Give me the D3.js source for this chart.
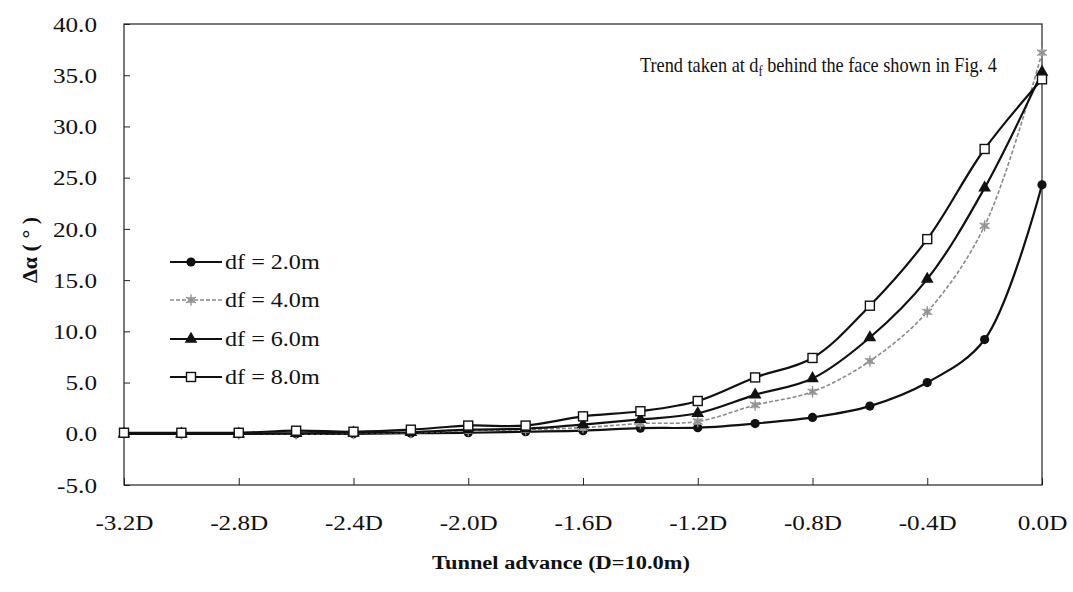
<!DOCTYPE html>
<html>
<head>
<meta charset="utf-8">
<script src="https://cdn.jsdelivr.net/npm/d3@7"></script>
<style>
  html, body { margin: 0; padding: 0; background: #fff; }
  svg { display: block; font-family: "Liberation Serif", "Times New Roman", serif; }
</style>
</head>
<body>
<svg id="chart" width="1073" height="592"></svg>
<script>
// Tunnel advance positions in units of D (D = 10.0 m)
const advance = [-3.2, -3.0, -2.8, -2.6, -2.4, -2.2, -2.0, -1.8, -1.6, -1.4, -1.2, -1.0, -0.8, -0.6, -0.4, -0.2, 0.0];

// Change of angle Δα (degrees) for each distance df behind the face
const df2 = [0.0, 0.0, 0.0, 0.0, 0.0, 0.05, 0.1, 0.2, 0.3, 0.55, 0.6, 1.0, 1.6, 2.7, 5.0, 9.2, 24.3];
const df4 = [0.0, 0.0, 0.0, 0.0, 0.05, 0.1, 0.3, 0.4, 0.6, 1.0, 1.2, 2.8, 4.1, 7.1, 11.9, 20.3, 37.2];
const df6 = [0.0, 0.0, 0.0, 0.05, 0.1, 0.15, 0.4, 0.5, 0.9, 1.4, 2.0, 3.8, 5.4, 9.4, 15.1, 24.0, 35.3];
const df8 = [0.1, 0.1, 0.1, 0.3, 0.2, 0.4, 0.8, 0.8, 1.7, 2.2, 3.2, 5.5, 7.4, 12.5, 19.0, 27.8, 34.6];

const seriesNames = ["df = 2.0m", "df = 4.0m", "df = 6.0m", "df = 8.0m"];

// Axis ticks and their labels
const xTicks = [-3.2, -2.8, -2.4, -2.0, -1.6, -1.2, -0.8, -0.4, 0.0];
const xTickLabels = ["-3.2D", "-2.8D", "-2.4D", "-2.0D", "-1.6D", "-1.2D", "-0.8D", "-0.4D", "0.0D"];
const yTicks = [-5, 0, 5, 10, 15, 20, 25, 30, 35, 40];
const yTickLabels = ["-5.0", "0.0", "5.0", "10.0", "15.0", "20.0", "25.0", "30.0", "35.0", "40.0"];

const FONT = '"Liberation Serif", "Times New Roman", serif';

const svg = d3.select("#chart");
const W = 1073, H = 592;
const margin = { left: 124, right: 31, top: 24, bottom: 107 };
const iw = W - margin.left - margin.right;
const ih = H - margin.top - margin.bottom;

const x = d3.scaleLinear().domain([-3.2, 0]).range([0, iw]);
const y = d3.scaleLinear().domain([-5, 40]).range([ih, 0]);

const g = svg.append("g").attr("transform", `translate(${margin.left},${margin.top})`);

// plot frame
g.append("rect")
  .attr("x", 0).attr("y", 0).attr("width", iw).attr("height", ih)
  .attr("fill", "none").attr("stroke", "#222").attr("stroke-width", 1.2);

// y axis: inward ticks, labels on the left
const yAxis = d3.axisLeft(y)
  .tickValues(yTicks)
  .tickFormat((d, i) => yTickLabels[i])
  .tickSizeInner(-6).tickSizeOuter(0).tickPadding(0);
const gy = g.append("g").call(yAxis).attr("font-family", FONT);
gy.select(".domain").remove();
gy.selectAll(".tick line").attr("stroke", "#222").attr("stroke-width", 1);
gy.selectAll(".tick text")
  .attr("font-size", 21).attr("fill", "#111")
  .attr("x", -27 / 1.2).attr("dy", "0.34em")
  .attr("text-anchor", "end")
  .attr("transform", "scale(1.2,1)");

// x axis: inward ticks, labels below
const xAxis = d3.axisBottom(x)
  .tickValues(xTicks)
  .tickFormat((d, i) => xTickLabels[i])
  .tickSizeInner(-7).tickSizeOuter(0).tickPadding(0);
const gx = g.append("g").attr("transform", `translate(0,${ih})`).call(xAxis).attr("font-family", FONT);
gx.select(".domain").remove();
gx.selectAll(".tick line").attr("stroke", "#222").attr("stroke-width", 1);
gx.selectAll(".tick text")
  .attr("font-size", 21).attr("fill", "#111")
  .attr("y", 45).attr("dy", 0)
  .attr("transform", "scale(1.2,1)");

// axis titles
svg.append("text")
  .attr("x", 0).attr("y", 0)
  .attr("transform", `translate(${margin.left + iw / 2 - 22},569) scale(1.18,1)`)
  .attr("text-anchor", "middle")
  .attr("font-size", 19).attr("font-weight", "bold").attr("fill", "#111")
  .text("Tunnel advance (D=10.0m)");

svg.append("text")
  .attr("transform", "translate(37,250) rotate(-90)")
  .attr("text-anchor", "middle")
  .attr("font-size", 22).attr("font-weight", "bold").attr("fill", "#111")
  .text("Δα ( ° )");

// annotation
const note = g.append("text")
  .attr("transform", "translate(516,48) scale(0.87,1)")
  .attr("font-size", 21).attr("fill", "#111");
note.append("tspan").text("Trend taken at d");
note.append("tspan").attr("font-size", 14).attr("dy", 4).text("f");
note.append("tspan").attr("dy", -4).text(" behind the face shown in Fig. 4");

// series definitions
const series = [
  { name: seriesNames[0], values: df2, stroke: "#111", width: 2.2, dash: null, marker: "circle" },
  { name: seriesNames[1], values: df4, stroke: "#8a8a8a", width: 1.6, dash: "4,2", marker: "star" },
  { name: seriesNames[2], values: df6, stroke: "#111", width: 2.2, dash: null, marker: "triangle" },
  { name: seriesNames[3], values: df8, stroke: "#111", width: 2.2, dash: null, marker: "square" }
];

const line = d3.line()
  .x(d => x(d[0]))
  .y(d => y(d[1]))
  .curve(d3.curveCatmullRom.alpha(0.5));

function drawMarker(sel, type) {
  if (type === "circle") {
    sel.append("circle").attr("r", 4.6).attr("fill", "#111");
  } else if (type === "triangle") {
    sel.append("path").attr("d", d3.symbol(d3.symbolTriangle, 70)()).attr("fill", "#111");
  } else if (type === "square") {
    sel.append("rect").attr("x", -4.5).attr("y", -4.5).attr("width", 9).attr("height", 9)
      .attr("fill", "#fff").attr("stroke", "#111").attr("stroke-width", 1.4);
  } else if (type === "star") {
    sel.append("path").attr("d", d3.symbol(d3.symbolSquare, 40)()).attr("fill", "#b5b5b5");
    sel.append("path").attr("d", d3.symbol(d3.symbolAsterisk || d3.symbolCross, 90)())
      .attr("fill", "none").attr("stroke", "#8f8f8f").attr("stroke-width", 1.3);
  }
}

// draw in order so df = 2.0m sits beneath
series.forEach(s => {
  const pts = advance.map((a, i) => [a, s.values[i]]);
  const sg = g.append("g");
  sg.append("path")
    .attr("d", line(pts))
    .attr("fill", "none")
    .attr("stroke", s.stroke)
    .attr("stroke-width", s.width)
    .attr("stroke-dasharray", s.dash);
  sg.selectAll("g.pt").data(pts).enter().append("g")
    .attr("class", "pt")
    .attr("transform", d => `translate(${x(d[0])},${y(d[1])})`)
    .each(function () { drawMarker(d3.select(this), s.marker); });
});

// legend
const legendY = [262, 300, 339, 377];
series.forEach((s, i) => {
  const lg = svg.append("g").attr("transform", `translate(170,${legendY[i]})`);
  lg.append("line").attr("x1", 0).attr("x2", 52).attr("y1", 0).attr("y2", 0)
    .attr("stroke", s.stroke).attr("stroke-width", s.width)
    .attr("stroke-dasharray", s.dash);
  const m = lg.append("g").attr("transform", "translate(21,0)");
  drawMarker(m, s.marker);
  lg.append("text").attr("x", 0).attr("y", 7)
    .attr("transform", "translate(55,0) scale(1.15,1)")
    .attr("font-size", 21).attr("fill", "#111")
    .text(s.name);
});
</script>
</body>
</html>
